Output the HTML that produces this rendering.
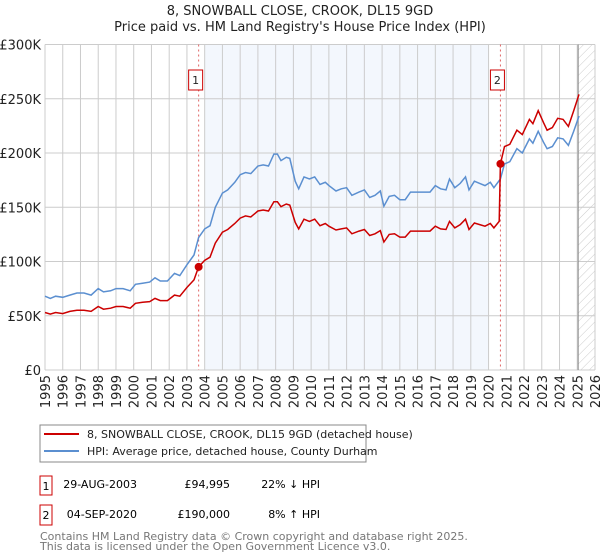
<!DOCTYPE html>
<html><head><meta charset="utf-8"><style>
body{margin:0;background:#fff;font-family:"Liberation Sans",sans-serif}
svg{display:block}
text{font-family:"DejaVu Sans","Liberation Sans",sans-serif}
</style></head><body>
<svg id="c" width="600" height="560" viewBox="0 0 600 560">
<defs><pattern id="hatch" width="6" height="6" patternUnits="userSpaceOnUse" patternTransform="rotate(45)"><line x1="0" y1="0" x2="0" y2="6" stroke="#ccc" stroke-width="1"/></pattern></defs>
<text x="300" y="15" text-anchor="middle" font-size="13" fill="#222">8, SNOWBALL CLOSE, CROOK, DL15 9GD</text>
<text x="300" y="31" text-anchor="middle" font-size="13" fill="#222">Price paid vs. HM Land Registry's House Price Index (HPI)</text>
<g id="grid"></g><g id="marks"></g>
<rect x="40" y="425" width="326" height="37" fill="#fff" stroke="#888"/>
<line x1="44" y1="434" x2="79" y2="434" stroke="#cc0000" stroke-width="2"/>
<text x="87" y="438" font-size="11" fill="#222">8, SNOWBALL CLOSE, CROOK, DL15 9GD (detached house)</text>
<line x1="44" y1="451" x2="79" y2="451" stroke="#5b8fd0" stroke-width="2"/>
<text x="87" y="455" font-size="11" fill="#222">HPI: Average price, detached house, County Durham</text>
<g>
<rect x="40" y="476" width="12" height="19" fill="#fff" stroke="#cc0000"/><text x="46" y="490" font-size="11" text-anchor="middle">1</text>
<text x="137" y="488" font-size="11" text-anchor="end">29-AUG-2003</text>
<text x="230" y="488" font-size="11" text-anchor="end">£94,995</text>
<text x="320" y="488" font-size="11" text-anchor="end">22% ↓ HPI</text></g>
<g>
<rect x="40" y="505" width="12" height="20" fill="#fff" stroke="#cc0000"/><text x="46" y="519" font-size="11" text-anchor="middle">2</text>
<text x="137" y="518" font-size="11" text-anchor="end">04-SEP-2020</text>
<text x="230" y="518" font-size="11" text-anchor="end">£190,000</text>
<text x="320" y="518" font-size="11" text-anchor="end">8% ↑ HPI</text></g>
<text x="40" y="540" font-size="11" fill="#777">Contains HM Land Registry data © Crown copyright and database right 2025.</text>
<text x="40" y="550" font-size="11" fill="#777">This data is licensed under the Open Government Licence v3.0.</text>
</svg>
<script>
const yTicks=[0,50000,100000,150000,200000,250000,300000];
const yTickLabels=["£0","£50K","£100K","£150K","£200K","£250K","£300K"];
const xYears=[1995,1996,1997,1998,1999,2000,2001,2002,2003,2004,2005,2006,2007,2008,2009,2010,2011,2012,2013,2014,2015,2016,2017,2018,2019,2020,2021,2022,2023,2024,2025,2026];
const hpiT=[1995.0,1995.3,1995.6,1996.0,1996.4,1996.8,1997.2,1997.6,1998.0,1998.3,1998.7,1999.0,1999.4,1999.8,2000.1,2000.5,2000.9,2001.2,2001.5,2001.9,2002.3,2002.6,2003.0,2003.4,2003.66,2004.0,2004.3,2004.6,2005.0,2005.3,2005.7,2006.0,2006.3,2006.6,2007.0,2007.3,2007.6,2007.9,2008.1,2008.3,2008.6,2008.8,2009.1,2009.3,2009.6,2009.9,2010.2,2010.5,2010.8,2011.0,2011.4,2011.7,2012.0,2012.3,2012.7,2013.0,2013.3,2013.6,2013.9,2014.1,2014.4,2014.7,2015.0,2015.3,2015.6,2016.0,2016.4,2016.7,2017.0,2017.3,2017.6,2017.8,2018.1,2018.4,2018.7,2018.9,2019.2,2019.5,2019.8,2020.1,2020.3,2020.67,2020.9,2021.2,2021.6,2021.9,2022.3,2022.5,2022.8,2023.1,2023.3,2023.6,2023.9,2024.2,2024.5,2024.8,2025.1];
const hpiK=[68,66,68,67,69,71,71,69,75,72,73,75,75,73,79,80,81,85,82,82,89,87,97,106,122,130,133,150,163,166,173,180,182,181,188,189,188,199,199,193,196,195,174,167,178,176,178,171,173,170,165,167,168,161,164,166,159,161,165,151,160,161,157,157,164,164,164,164,170,167,166,176,168,172,178,166,174,172,170,173,168,176,190,192,204,200,213,209,220,210,204,206,214,213,207,220,234];
const propT=[1995.0,1995.3,1995.6,1996.0,1996.4,1996.8,1997.2,1997.6,1998.0,1998.3,1998.7,1999.0,1999.4,1999.8,2000.1,2000.5,2000.9,2001.2,2001.5,2001.9,2002.3,2002.6,2003.0,2003.4,2003.66,2004.0,2004.3,2004.6,2005.0,2005.3,2005.7,2006.0,2006.3,2006.6,2007.0,2007.3,2007.6,2007.9,2008.1,2008.3,2008.6,2008.8,2009.1,2009.3,2009.6,2009.9,2010.2,2010.5,2010.8,2011.0,2011.4,2011.7,2012.0,2012.3,2012.7,2013.0,2013.3,2013.6,2013.9,2014.1,2014.4,2014.7,2015.0,2015.3,2015.6,2016.0,2016.4,2016.7,2017.0,2017.3,2017.6,2017.8,2018.1,2018.4,2018.7,2018.9,2019.2,2019.5,2019.8,2020.1,2020.3,2020.6,2020.67,2020.9,2021.2,2021.6,2021.9,2022.3,2022.5,2022.8,2023.1,2023.3,2023.6,2023.9,2024.2,2024.5,2024.8,2025.1];
const propK=[53,51.5,53,52,54,55,55,54,58.5,56,57,58.5,58.5,57,61.5,62.5,63,66,64,64,69,68,76,83,95,101,104,117,127,129.5,135,140,142,141,146.5,147.5,146.5,155,155,150.5,153,152,136,130,139,137,139,133,135,132.5,129,130,131,125.5,128,129.5,124,125.5,128.5,118,125,125.5,122.5,122.5,128,128,128,128,132.5,130,129.5,137,131,134,139,129.5,135.5,134,132.5,135,131,137,190,206,208,221,217,231,227,239,228,221,223.5,232,231,224.5,239,254];
const saleT=[2003.66,2020.67];
const saleK=[94.995,190];
const saleLabels=["1","2"];
const X0=45,X1=595,Y0=370,Y1=44.5;
const xs=t=>X0+(t-1995)/(2026-1995)*(X1-X0);
const ys=v=>Y0-v/300000*(Y0-Y1);
const NS="http://www.w3.org/2000/svg";
function mk(tag,attrs,parent){const e=document.createElementNS(NS,tag);for(const k in attrs)e.setAttribute(k,attrs[k]);parent.appendChild(e);return e;}
const g=document.getElementById('grid'),m=document.getElementById('marks');
let r=mk('rect',{x:xs(2004),y:Y1,width:xs(2020)-xs(2004),height:Y0-Y1,fill:'#eef3fc',opacity:0.7},g);


r=mk('rect',{x:xs(2025.05),y:Y1,width:X1-xs(2025.05),height:Y0-Y1,fill:'url(#hatch)'},g);


yTicks.forEach((v,i)=>{
 const l=mk('line',{x1:X0,x2:X1,y1:ys(v),y2:ys(v),stroke:'#ccc'},g);
 
 
 const t=mk('text',{x:X0-4,y:ys(v)+5,'text-anchor':'end','font-size':13,fill:'#222'},g);t.textContent=yTickLabels[i];
 
 
});
xYears.forEach(y=>{
 const l=mk('line',{x1:xs(y),x2:xs(y),y1:Y1,y2:Y0,stroke:'#ccc'},g);
 
 
 const t=mk('text',{x:0,y:0,'text-anchor':'end','font-size':13,fill:'#222',transform:`translate(${xs(y)+5},375) rotate(-90)`},g);t.textContent=y;
 
 
});
let l=mk('line',{x1:xs(2025.05),x2:xs(2025.05),y1:Y1,y2:Y0,stroke:'#888'},g);


saleT.forEach((t,i)=>{
 const d=mk('line',{x1:xs(t),x2:xs(t),y1:Y1,y2:Y0,stroke:'#e06666','stroke-dasharray':'2,3'},m);
 
 
 const b=mk('rect',{x:xs(t)-10,y:70,width:14,height:20,fill:'#fff',stroke:'#cc0000'},m);
 
 
 const tx=mk('text',{x:xs(t)-3,y:84,'text-anchor':'middle','font-size':11,fill:'#222'},m);tx.textContent=saleLabels[i];
 
 
});
let p=mk('path',{d:hpiT.map((t,i)=>(i?'L':'M')+xs(t).toFixed(1)+','+ys(hpiK[i]*1000).toFixed(1)).join(''),fill:'none',stroke:'#5b8fd0','stroke-width':1.5},m);


p=mk('path',{d:propT.map((t,i)=>(i?'L':'M')+xs(t).toFixed(1)+','+ys(propK[i]*1000).toFixed(1)).join(''),fill:'none',stroke:'#cc0000','stroke-width':1.5},m);


saleT.forEach((t,i)=>{
 const c=mk('circle',{cx:xs(t),cy:ys(saleK[i]*1000),r:4,fill:'#cc0000'},m);
 
 
});
</script>
</body></html>
